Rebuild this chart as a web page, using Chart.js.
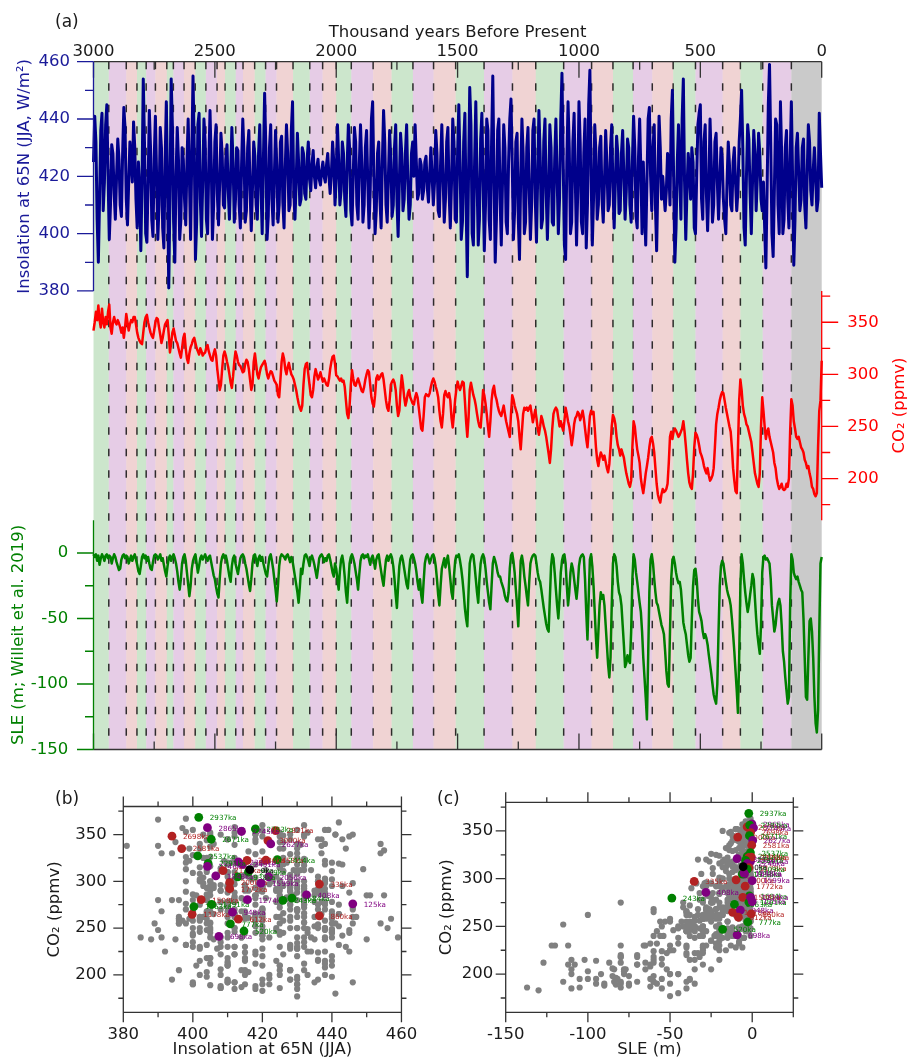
<!DOCTYPE html>
<html>
<head>
<meta charset="utf-8">
<title>Insolation, CO2 and sea level over the last 3 Myr</title>
<script src="https://cdn.jsdelivr.net/npm/chart.js"></script>
<style>
  body { margin: 0; background: #fff; width: 907px; height: 1061px; position: relative; overflow: hidden; }
  canvas { position: absolute; }
  #chartTimeSeries { left: 0; top: 0; }
  #chartInsolCO2 { left: 0; top: 780px; }
  #chartSLECO2 { left: 430px; top: 780px; }
</style>
</head>
<body>
<canvas id="chartTimeSeries" width="907" height="785"></canvas>
<canvas id="chartInsolCO2" width="430" height="281"></canvas>
<canvas id="chartSLECO2" width="477" height="281"></canvas>
<script>
// all three records run from 3000 ka to 0 ka, one value every 5 ka
var ageStart = 3000;
var ageStep = 5;

// insolation at 65N, JJA mean (W/m2)
var insolation = [
  425, 441, 432, 405, 390, 412, 436, 442, 408, 418, 438, 445, 420, 398, 410, 431, 428, 414, 405, 420, // 3000-2905
  433, 426, 410, 406, 428, 444, 437, 412, 403, 418, 432, 425, 418, 439, 430, 412, 402, 425, 416, 394, // 2900-2805
  418, 454, 432, 400, 397, 418, 443, 430, 405, 399, 426, 441, 420, 398, 410, 437, 430, 402, 395, 425, // 2800-2705
  446, 418, 381, 412, 454, 438, 404, 390, 420, 437, 426, 398, 405, 430, 426, 412, 403, 425, 440, 420, // 2700-2605
  398, 428, 455, 430, 391, 404, 438, 442, 412, 399, 418, 440, 432, 405, 400, 424, 443, 425, 398, 410, // 2600-2505
  432, 438, 414, 403, 418, 435, 428, 410, 409, 426, 431, 415, 405, 420, 437, 425, 404, 412, 430, 429, // 2500-2405
  410, 402, 424, 440, 428, 404, 408, 430, 436, 415, 401, 416, 432, 427, 410, 405, 428, 438, 416, 400, // 2400-2305
  426, 449, 430, 398, 406, 430, 438, 412, 403, 420, 436, 424, 404, 410, 432, 434, 411, 402, 423, 438, // 2300-2205
  428, 408, 410, 436, 446, 415, 405, 418, 435, 425, 410, 412, 430, 428, 414, 412, 426, 432, 419, 415, // 2200-2105
  424, 429, 420, 416, 423, 426, 419, 417, 422, 425, 420, 418, 424, 428, 420, 414, 421, 432, 425, 410, // 2100-2005
  420, 438, 426, 410, 415, 432, 428, 412, 406, 424, 438, 430, 408, 403, 420, 437, 432, 410, 405, 424, // 2000-1905
  438, 425, 404, 410, 430, 436, 418, 402, 415, 440, 446, 420, 400, 408, 428, 432, 412, 402, 425, 443, // 1900-1805
  432, 410, 404, 420, 436, 425, 406, 410, 430, 438, 412, 399, 418, 435, 428, 408, 412, 428, 438, 418, // 1800-1705
  405, 410, 428, 432, 420, 438, 425, 412, 414, 426, 424, 412, 415, 425, 427, 416, 411, 421, 430, 420, // 1700-1605
  410, 418, 436, 428, 408, 406, 425, 438, 420, 404, 412, 432, 437, 414, 402, 418, 440, 432, 405, 404, // 1600-1505
  428, 445, 425, 398, 404, 432, 442, 410, 385, 420, 451, 438, 400, 396, 425, 446, 420, 396, 405, 433, // 1500-1405
  442, 418, 394, 410, 440, 436, 405, 398, 432, 455, 420, 390, 405, 436, 440, 412, 396, 418, 438, 430, // 1400-1305
  404, 400, 425, 440, 447, 425, 398, 408, 432, 435, 405, 391, 420, 440, 428, 400, 404, 430, 437, 415, // 1300-1205
  398, 410, 436, 440, 412, 397, 420, 443, 428, 402, 405, 432, 440, 414, 398, 415, 438, 430, 404, 403, // 1200-1105
  426, 440, 420, 400, 412, 440, 456, 425, 396, 391, 425, 446, 430, 400, 404, 432, 442, 418, 396, 415, // 1100-1005
  446, 432, 404, 400, 428, 440, 395, 410, 445, 457, 420, 396, 412, 438, 428, 405, 410, 430, 434, 412, // 1000-905
  404, 418, 436, 425, 408, 410, 430, 438, 416, 402, 418, 434, 428, 407, 408, 428, 436, 420, 405, 415, // 900-805
  433, 430, 410, 404, 425, 441, 430, 406, 402, 426, 440, 422, 400, 425, 410, 396, 418, 440, 444, 420, // 800-705
  408, 430, 438, 410, 394, 418, 441, 430, 412, 420, 414, 408, 415, 428, 424, 410, 440, 450, 420, 390, // 700-605
  402, 425, 438, 420, 405, 440, 454, 418, 398, 415, 428, 422, 412, 430, 425, 402, 400, 420, 438, 442, // 600-505
  445, 412, 405, 432, 438, 414, 401, 416, 440, 425, 404, 410, 432, 435, 418, 405, 418, 430, 427, 412, // 500-405
  405, 400, 418, 432, 424, 410, 408, 425, 430, 418, 408, 415, 432, 440, 450, 430, 402, 396, 420, 438, // 400-305
  433, 414, 400, 418, 436, 428, 408, 420, 435, 428, 412, 408, 418, 402, 388, 415, 445, 459, 432, 400, // 300-205
  392, 415, 440, 438, 410, 400, 446, 428, 400, 405, 430, 436, 412, 402, 426, 446, 420, 389, 405, 430, // 200-105
  435, 422, 408, 412, 430, 433, 410, 402, 420, 438, 432, 415, 410, 422, 430, 420, 408, 412, 442, 428, // 100-5
  416 // 0
];

// atmospheric CO2 (ppmv)
var co2 = [
  342, 350, 360, 352, 366, 352, 345, 363, 350, 345, 355, 348, 360, 367, 345, 339, 350, 355, 350, 348,
  352, 349, 345, 340, 345, 335, 345, 358, 350, 342, 348, 352, 350, 355, 355, 348, 340, 335, 332, 330,
  329, 340, 350, 355, 357, 350, 345, 340, 337, 335, 342, 350, 354, 353, 345, 338, 330, 335, 342, 348,
  350, 352, 338, 321, 330, 340, 344, 338, 332, 330, 325, 320, 316, 325, 335, 339, 325, 315, 311, 320,
  326, 329, 333, 335, 330, 325, 322, 319, 325, 322, 318, 320, 321, 326, 328, 322, 318, 314, 313, 320,
  324, 318, 305, 295, 285, 290, 305, 318, 322, 318, 312, 307, 300, 292, 287, 298, 312, 322, 318, 312,
  309, 308, 305, 302, 303, 310, 314, 312, 305, 295, 285, 290, 312, 320, 310, 300, 296, 302, 307, 309,
  311, 313, 308, 300, 296, 300, 303, 302, 298, 294, 292, 290, 280, 278, 295, 312, 320, 315, 305, 300,
  307, 311, 305, 300, 298, 295, 290, 285, 278, 272, 268, 265, 270, 290, 305, 310, 311, 300, 290, 280,
  278, 285, 298, 305, 300, 295, 298, 302, 297, 293, 296, 293, 290, 289, 295, 305, 312, 317, 318, 310,
  299, 298, 296, 294, 296, 293, 294, 288, 275, 262, 258, 270, 290, 304, 296, 290, 289, 293, 296, 292,
  288, 284, 283, 288, 295, 300, 304, 302, 290, 278, 272, 269, 280, 296, 299, 295, 297, 300, 301, 295,
  285, 275, 268, 265, 275, 290, 293, 295, 292, 285, 270, 260, 265, 285, 299, 290, 278, 270, 275, 282,
  285, 278, 275, 272, 271, 278, 282, 278, 268, 258, 248, 246, 260, 278, 281, 280, 279, 282, 288, 293,
  296, 293, 288, 284, 278, 265, 255, 249, 262, 280, 284, 280, 278, 282, 275, 258, 249, 262, 276, 286,
  293, 288, 285, 289, 293, 292, 275, 255, 240, 258, 285, 292, 286, 280, 276, 270, 262, 255, 250, 249,
  265, 285, 280, 272, 262, 250, 240, 255, 275, 285, 289, 280, 276, 270, 265, 262, 260, 265, 270, 262,
  255, 250, 245, 240, 262, 280, 276, 270, 266, 262, 255, 240, 228, 245, 262, 268, 266, 268, 265, 268,
  270, 262, 254, 260, 266, 258, 248, 242, 250, 260, 256, 250, 246, 240, 232, 224, 215, 228, 248, 262,
  266, 268, 266, 258, 250, 255, 250, 246, 255, 268, 262, 255, 250, 242, 232, 240, 252, 258, 260, 264,
  262, 256, 260, 265, 258, 248, 238, 230, 245, 260, 265, 262, 264, 248, 230, 218, 212, 220, 225, 222,
  218, 222, 216, 210, 206, 214, 230, 250, 261, 258, 252, 240, 232, 228, 222, 228, 224, 220, 212, 205,
  200, 195, 192, 198, 230, 255, 250, 238, 228, 222, 215, 200, 192, 186, 195, 205, 212, 220, 230, 238,
  240, 234, 225, 210, 195, 185, 180, 177, 185, 190, 187, 188, 190, 195, 215, 240, 245, 238, 245, 248,
  246, 243, 240, 242, 245, 248, 255, 245, 232, 218, 205, 196, 192, 190, 205, 230, 244, 242, 238, 232,
  225, 222, 218, 212, 208, 205, 210, 203, 198, 200, 203, 210, 230, 252, 262, 268, 275, 280, 283, 282,
  275, 268, 262, 256, 250, 245, 230, 210, 198, 188, 186, 230, 275, 295, 285, 270, 262, 258, 252, 250,
  245, 240, 235, 225, 215, 205, 200, 195, 192, 205, 250, 278, 265, 250, 238, 245, 248, 240, 235, 230,
  225, 215, 210, 200, 194, 190, 192, 195, 190, 189, 190, 195, 192, 200, 245, 276, 270, 255, 248, 240,
  238, 240, 235, 230, 228, 225, 218, 215, 210, 212, 205, 200, 192, 190, 185, 183, 186, 230, 265, 275,
  313
];

// sea level equivalent ice volume (m), Willeit et al. 2019
var sle = [
  -1, -3, -1, -6, -2, -9, -4, -1, -3, -6, -2, -1, -4, -2, -3, -8, -4, -1, -3, -7,
  -10, -13, -12, -5, -2, -1, -4, -2, -3, -8, -5, -2, -6, -3, -1, -5, -9, -14, -16, -10,
  -3, -1, -4, -2, -6, -3, -8, -12, -13, -7, -2, -1, -2, -5, -3, -1, -6, -4, -9, -14,
  -18, -10, -4, -2, -6, -3, -1, -4, -8, -14, -22, -28, -20, -8, -3, -1, -6, -15, -24, -33,
  -25, -12, -6, -3, -1, -8, -15, -10, -4, -2, -5, -3, -1, -4, -6, -3, -2, -7, -12, -17,
  -20, -26, -31, -34, -20, -8, -3, -1, -4, -2, -6, -12, -18, -22, -10, -4, -2, -8, -12, -16,
  -10, -4, -2, -1, -3, -8, -12, -18, -24, -29, -20, -8, -2, -1, -5, -10, -4, -2, -6, -3,
  -8, -12, -16, -18, -10, -3, -1, -6, -12, -20, -28, -37, -25, -10, -3, -1, -2, -3, -5, -2,
  -1, -4, -7, -3, -6, -12, -18, -24, -30, -38, -26, -12, -16, -8, -2, -1, -3, -6, -10, -4,
  -2, -5, -9, -14, -19, -12, -4, -2, -1, -3, -7, -4, -6, -2, -1, -5, -10, -15, -18, -8,
  -12, -20, -28, -14, -5, -2, -8, -18, -30, -38, -22, -8, -3, -1, -4, -8, -14, -20, -28, -16,
  -6, -2, -1, -4, -2, -3, -1, -5, -9, -4, -2, -6, -12, -5, -2, -1, -8, -14, -20, -25,
  -14, -5, -2, -6, -3, -1, -4, -10, -20, -32, -42, -25, -10, -4, -2, -6, -12, -18, -24, -27,
  -15, -5, -2, -1, -4, -8, -14, -22, -28, -20, -32, -38, -22, -8, -3, -1, -4, -8, -5, -2,
  -1, -4, -10, -20, -32, -40, -25, -12, -8, -4, -11, -6, -2, -10, -20, -30, -35, -18, -6, -2,
  -3, -1, -6, -12, -20, -30, -42, -50, -56, -30, -8, -3, -1, -2, -10, -20, -30, -38, -20, -8,
  -3, -1, -4, -12, -22, -30, -38, -43, -25, -8, -3, -6, -10, -15, -18, -18, -22, -25, -28, -33,
  -36, -37, -30, -12, -2, 0, -6, -15, -28, -40, -56, -30, -6, -2, -8, -18, -25, -33, -40, -22,
  -8, -4, -2, -1, -2, -8, -15, -20, -22, -28, -35, -42, -48, -54, -58, -60, -35, -10, -1, -4,
  -15, -28, -40, -50, -35, -15, -6, -2, -1, -8, -25, -40, -30, -15, -8, -12, -20, -28, -35, -25,
  -10, -4, -2, -1, -3, -20, -45, -66, -35, -5, -1, -10, -25, -45, -65, -80, -60, -40, -30, -35,
  -32, -40, -55, -70, -85, -95, -80, -40, -8, -1, -3, -10, -22, -30, -33, -40, -55, -70, -87, -84,
  -78, -82, -84, -60, -20, -1, -5, -15, -22, -30, -38, -45, -60, -80, -95, -110, -127, -80, -30, -5,
  -1, -8, -20, -30, -38, -40, -45, -50, -55, -58, -62, -75, -90, -100, -102, -60, -20, -5, -3, -8,
  -15, -20, -23, -22, -28, -40, -53, -58, -62, -70, -78, -83, -80, -50, -25, -13, -12, -20, -35, -45,
  -48, -52, -60, -65, -62, -65, -70, -78, -85, -92, -100, -108, -112, -115, -100, -60, -25, -10, -6, -8,
  -15, -22, -28, -32, -35, -40, -50, -62, -75, -90, -105, -122, -80, -25, -1, -8, -20, -30, -38, -45,
  -40, -32, -25, -16, -20, -35, -50, -62, -70, -77, -55, -15, -3, -2, -5, -4, -6, -8, -20, -40,
  -50, -60, -55, -45, -38, -35, -40, -55, -75, -83, -95, -105, -115, -110, -40, -1, -5, -15, -18, -20,
  -18, -22, -25, -28, -30, -50, -80, -110, -112, -80, -52, -50, -60, -80, -110, -130, -137, -120, -60, -8,
  -3
];

// highlighted ages: band edges in (a), labelled dots in (b) and (c)
var stageAges = [3000, 2937, 2865, 2821, 2783, 2745, 2698, 2671, 2627, 2581, 2537, 2491, 2458, 2414,
  2384, 2336, 2291, 2246, 2178, 2109, 2056, 2000, 1938, 1848, 1772, 1684, 1599, 1508, 1391, 1274,
  1178, 1063, 948, 860, 777, 698, 612, 520, 408, 335, 243, 125, 0];
var stageKinds = ['brown',
  'green', 'purple', 'brown', 'green', 'purple', 'brown', 'green', 'purple', 'brown',
  'green', 'purple', 'brown', 'green', 'purple', 'brown', 'green', 'purple', 'brown',
  'green', 'purple', 'brown', 'green', 'purple', 'brown', 'green', 'purple', 'brown',
  'green', 'purple', 'brown', 'green', 'purple', 'brown', 'green', 'purple', 'brown',
  'green', 'purple', 'brown', 'green', 'purple', 'black'];
var stageInsol = [421.6, 401.7, 404.2, 423.8, 418.0, 414.0, 394.0, 405.3, 422.4, 396.8, 401.4, 414.3,
  421.0, 424.3, 413.1, 415.6, 404.4, 404.2, 408.7, 416.0, 421.8, 410.6, 412.9, 406.6, 410.6, 428.5,
  419.6, 402.4, 405.4, 415.7, 399.8, 400.3, 411.4, 436.4, 410.8, 407.5, 413.1, 414.7, 432.7, 436.4,
  425.9, 446.0, 416.4];
var stageCO2 = [343.6, 368.4, 357.4, 354.3, 356.0, 353.3, 348.3, 345.0, 340.0, 335.0, 327.2, 318.2,
  322.6, 323.2, 320.9, 322.3, 319.2, 315.9, 311.5, 310.0, 304.8, 298.8, 304.8, 305.8, 292.1, 282.0,
  298.0, 280.4, 275.4, 280.4, 264.7, 273.0, 267.0, 263.0, 254.6, 241.2, 259.6, 246.9, 285.6, 297.1,
  279.7, 276.0, 312.5];
var stageSLE = [-8.8, -2.1, -0.2, -3.1, -1.5, 0.8, -1.0, -1.7, 0.3, -0.3, -1.1, -1.0, -0.5, -3.1,
  -9.2, -2.0, -4.0, -3.0, -2.0, -3.0, -4.7, -9.8, -6.0, -5.0, -4.3, -1.7, 0.0, -5.7, -2.0, -1.0,
  -11.9, -10.8, -7.2, -0.6, -2.7, -9.2, -8.4, -18.0, -28.2, -35.3, -48.9, 0.0, -5.5];

// tick values
var ageTicks = [3000, 2500, 2000, 1500, 1000, 500, 0];
var ageMinorTicks = [2750, 2250, 1750, 1250, 750, 250];
var insolTicks = [380, 400, 420, 440, 460];
var insolMinorTicks = [390, 410, 430, 450];
var co2Ticks = [200, 250, 300, 350];
var co2MinorTicks = [175, 225, 275, 325, 375];
var sleTicks = [0, -50, -100, -150];
var sleMinorTicks = [-25, -75, -125];
var sleScatterTicks = [-150, -100, -50, 0];
var sleScatterMinorTicks = [-125, -75, -25, 25];

var insolColor = '#1a1a99';
var co2Color = '#ff0000';
var sleColor = '#008000';
var axisColor = '#333333';
var kindColor = { green: '#008000', purple: '#800080', brown: '#b22222', black: '#000000' };
var kindBand = { green: 'rgba(0,128,0,0.2)', purple: 'rgba(128,0,128,0.2)', brown: 'rgba(178,34,34,0.2)', black: 'rgba(128,128,128,0.42)' };

Chart.defaults.font.family = '"DejaVu Sans", sans-serif';
Chart.defaults.font.size = 16.5;
Chart.defaults.color = '#1a1a1a';

function series(values) {
    return values.map(function (v, i) { return { x: ageStart - i * ageStep, y: v }; });
}
function fixedTicks(values) {
    return function (scale) { scale.ticks = values.map(function (v) { return { value: v }; }); };
}
function plainLabel(value) { return String(value); }
function fixWidth(w) { return function (scale) { scale.width = w; }; }
function fixHeight(h) { return function (scale) { scale.height = h; }; }

// short tick marks along an axis line, len < 0 goes left / up
function tickMarks(ctx, scale, along, values, len) {
    values.forEach(function (v) {
        var p = scale.getPixelForValue(v);
        if (scale.isHorizontal()) { ctx.moveTo(p, along); ctx.lineTo(p, along + len); }
        else { ctx.moveTo(along, p); ctx.lineTo(along + len, p); }
    });
}

var timeSeriesDecor = {
    id: 'timeSeriesDecor',
    beforeDatasetsDraw: function (chart) {
        var ctx = chart.ctx, area = chart.chartArea, x = chart.scales.x;
        ctx.save();
        for (var i = 0; i < stageAges.length - 1; i++) {
            var x0 = x.getPixelForValue(stageAges[i]);
            var x1 = x.getPixelForValue(stageAges[i + 1]);
            ctx.fillStyle = kindBand[stageKinds[i + 1]];
            ctx.fillRect(x0, area.top, x1 - x0, area.bottom - area.top);
        }
        ctx.strokeStyle = 'rgba(0,0,0,0.8)';
        ctx.lineWidth = 1.5;
        ctx.setLineDash([7.5, 14]);
        ctx.beginPath();
        for (var j = 1; j < stageAges.length - 1; j++) {
            var px = x.getPixelForValue(stageAges[j]);
            ctx.moveTo(px, area.top);
            ctx.lineTo(px, area.bottom);
        }
        ctx.stroke();
        ctx.restore();
    },
    afterDraw: function (chart) {
        var ctx = chart.ctx, area = chart.chartArea, s = chart.scales;
        ctx.save();
        ctx.lineWidth = 1.3;
        ctx.strokeStyle = axisColor;
        ctx.beginPath();
        ctx.moveTo(area.left, area.top); ctx.lineTo(area.right, area.top);
        ctx.moveTo(area.left, area.bottom); ctx.lineTo(area.right, area.bottom);
        tickMarks(ctx, s.x, area.top, ageTicks, 16);
        tickMarks(ctx, s.x, area.top, ageMinorTicks, 8);
        tickMarks(ctx, s.x, area.bottom, ageTicks, -16);
        tickMarks(ctx, s.x, area.bottom, ageMinorTicks, -8);
        ctx.stroke();

        // each y axis only covers its own third of the panel
        [[s.yInsol, area.left, -1, insolTicks, insolMinorTicks, insolColor],
         [s.yCO2, area.right, 1, co2Ticks, co2MinorTicks, co2Color],
         [s.ySLE, area.left, -1, sleTicks, sleMinorTicks, sleColor]].forEach(function (ax) {
            ctx.strokeStyle = ax[5];
            ctx.beginPath();
            ctx.moveTo(ax[1], ax[0].top); ctx.lineTo(ax[1], ax[0].bottom);
            tickMarks(ctx, ax[0], ax[1], ax[3], 16.5 * ax[2]);
            tickMarks(ctx, ax[0], ax[1], ax[4], 8.5 * ax[2]);
            ctx.stroke();
        });

        ctx.fillStyle = '#1a1a1a';
        ctx.font = '17px "DejaVu Sans"';
        ctx.textBaseline = 'middle';
        ctx.fillText('(a)', 55, 23);

        // right-hand title reads upwards like the left ones
        ctx.translate(900, (s.yCO2.top + s.yCO2.bottom) / 2);
        ctx.rotate(-Math.PI / 2);
        ctx.fillStyle = co2Color;
        ctx.font = '16.5px "DejaVu Sans"';
        ctx.textAlign = 'center';
        ctx.fillText('CO₂ (ppmv)', 0, 0);
        ctx.restore();
    }
};

var chartTimeSeries = new Chart(document.getElementById('chartTimeSeries'), {
    type: 'line',
    data: {
        datasets: [{
            label: 'Insolation',
            data: series(insolation),
            yAxisID: 'yInsol',
            borderColor: '#00008b',
            borderWidth: 3
        }, {
            label: 'CO2',
            data: series(co2),
            yAxisID: 'yCO2',
            borderColor: '#ff0000',
            borderWidth: 2.5
        }, {
            label: 'SLE',
            data: series(sle),
            yAxisID: 'ySLE',
            borderColor: '#008000',
            borderWidth: 2.5
        }]
    },
    options: {
        responsive: false,
        animation: false,
        events: [],
        elements: {
            point: { radius: 0 },
            line: { tension: 0, borderJoinStyle: 'round' }
        },
        datasets: { line: { clip: 6 } },
        layout: { padding: { bottom: 18 }, autoPadding: false },
        plugins: { legend: { display: false }, tooltip: { enabled: false } },
        scales: {
            x: {
                type: 'linear', position: 'top', min: 0, max: 3000, reverse: true,
                afterBuildTicks: fixedTicks(ageTicks),
                afterFit: fixHeight(61.7),
                grid: { display: false, drawTicks: false },
                border: { display: false },
                ticks: { padding: 0, maxRotation: 0, autoSkip: false, callback: plainLabel },
                title: { display: true, text: 'Thousand years Before Present', padding: { top: 23.1 } }
            },
            ySLE: {
                type: 'linear', position: 'left', stack: 'left', stackWeight: 1, min: -150, max: 25,
                afterBuildTicks: fixedTicks(sleTicks),
                afterFit: fixWidth(93.5),
                grid: { display: false, drawTicks: false },
                border: { display: false },
                ticks: { color: sleColor, padding: 25.2, autoSkip: false, callback: plainLabel },
                title: { display: true, text: 'SLE (m; Willeit et al. 2019)', color: sleColor, padding: { top: 8.4 } }
            },
            yGapLeft: {
                type: 'linear', position: 'left', stack: 'left', stackWeight: 1, display: false,
                afterFit: fixWidth(93.5)
            },
            yInsol: {
                type: 'linear', position: 'left', stack: 'left', stackWeight: 1, min: 380, max: 460,
                afterBuildTicks: fixedTicks(insolTicks),
                afterFit: fixWidth(93.5),
                grid: { display: false, drawTicks: false },
                border: { display: false },
                ticks: { color: insolColor, padding: 23.5, autoSkip: false, callback: plainLabel },
                title: { display: true, text: 'Insolation at 65N (JJA, W/m²)', color: insolColor, padding: { top: 15.1 } }
            },
            yTopRight: {
                type: 'linear', position: 'right', stack: 'right', stackWeight: 1, display: false,
                afterFit: fixWidth(85.3)
            },
            yCO2: {
                type: 'linear', position: 'right', stack: 'right', stackWeight: 1, min: 160, max: 380,
                afterBuildTicks: fixedTicks(co2Ticks),
                afterFit: fixWidth(85.3),
                grid: { display: false, drawTicks: false },
                border: { display: false },
                ticks: { color: co2Color, padding: 25.6, autoSkip: false, callback: plainLabel }
            },
            yLowRight: {
                type: 'linear', position: 'right', stack: 'right', stackWeight: 1, display: false,
                afterFit: fixWidth(85.3)
            }
        }
    },
    plugins: [timeSeriesDecor]
});

// one dataset per highlighted age so each label sits right above its own dot
function stageDatasets(xValues) {
    return stageAges.map(function (age, i) {
        return {
            label: age + 'ka',
            stageLabel: age + 'ka',
            data: [{ x: xValues[i], y: stageCO2[i] }],
            pointBackgroundColor: kindColor[stageKinds[i]],
            pointBorderWidth: 0,
            pointRadius: 4.4,
            order: stageAges.length - i
        };
    });
}

function scatterDecor(letter, letterX, xTicks, xMinorTicks) {
    return {
        id: 'scatterDecor',
        afterDatasetDraw: function (chart, args) {
            var ds = chart.data.datasets[args.index];
            if (!ds.stageLabel) return;
            var pt = args.meta.data[0];
            var ctx = chart.ctx;
            ctx.save();
            ctx.font = '7.2px "DejaVu Sans"';
            ctx.fillStyle = ds.pointBackgroundColor;
            ctx.textBaseline = 'middle';
            ctx.fillText(ds.stageLabel, pt.x + 11, pt.y + 1);
            ctx.restore();
        },
        afterDraw: function (chart) {
            var ctx = chart.ctx, area = chart.chartArea, s = chart.scales;
            ctx.save();
            ctx.strokeStyle = axisColor;
            ctx.lineWidth = 1.3;
            ctx.beginPath();
            ctx.rect(area.left, area.top, area.right - area.left, area.bottom - area.top);
            tickMarks(ctx, s.x, area.bottom, xTicks, 10);
            tickMarks(ctx, s.x, area.bottom, xMinorTicks, 5);
            tickMarks(ctx, s.x, area.top, xTicks, -10);
            tickMarks(ctx, s.x, area.top, xMinorTicks, -5);
            tickMarks(ctx, s.y, area.left, co2Ticks, -10);
            tickMarks(ctx, s.y, area.left, co2MinorTicks, -5);
            tickMarks(ctx, s.y, area.right, co2Ticks, 10);
            tickMarks(ctx, s.y, area.right, co2MinorTicks, 5);
            ctx.stroke();
            ctx.fillStyle = '#1a1a1a';
            ctx.font = '17px "DejaVu Sans"';
            ctx.textBaseline = 'middle';
            ctx.fillText(letter, letterX, 20);
            ctx.restore();
        }
    };
}

function scatterYAxis(width, labelPad, titlePad) {
    return {
        type: 'linear', position: 'left', min: 160, max: 380,
        afterBuildTicks: fixedTicks(co2Ticks),
        afterFit: fixWidth(width),
        grid: { display: false, drawTicks: false },
        border: { display: false },
        ticks: { padding: labelPad, autoSkip: false, callback: plainLabel },
        title: { display: true, text: 'CO₂ (ppmv)', padding: { top: titlePad } }
    };
}

var chartInsolCO2 = new Chart(document.getElementById('chartInsolCO2'), {
    type: 'scatter',
    data: {
        datasets: [{
            label: 'all ages',
            data: insolation.map(function (v, i) { return { x: v, y: co2[i] }; }),
            pointBackgroundColor: '#808080',
            pointBorderWidth: 0,
            pointRadius: 3.1,
            order: 100
        }].concat(stageDatasets(stageInsol))
    },
    options: {
        responsive: false,
        animation: false,
        events: [],
        layout: { padding: { top: 14, right: 20.7 }, autoPadding: false },
        plugins: { legend: { display: false }, tooltip: { enabled: false } },
        scales: {
            x: {
                type: 'linear', position: 'bottom', min: 380, max: 460,
                afterBuildTicks: fixedTicks(insolTicks),
                afterFit: fixHeight(48.7),
                grid: { display: false, drawTicks: false },
                border: { display: false },
                ticks: { padding: 12.8, maxRotation: 0, autoSkip: false, callback: plainLabel },
                title: { display: true, text: 'Insolation at 65N (JJA)', padding: { top: 0, bottom: 1.6 } }
            },
            y: scatterYAxis(123.3, 16.6, 45.1)
        }
    },
    plugins: [scatterDecor('(b)', 55, insolTicks, insolMinorTicks)]
});

var chartSLECO2 = new Chart(document.getElementById('chartSLECO2'), {
    type: 'scatter',
    data: {
        datasets: [{
            label: 'all ages',
            data: sle.map(function (v, i) { return { x: v, y: co2[i] }; }),
            pointBackgroundColor: '#808080',
            pointBorderWidth: 0,
            pointRadius: 3.1,
            order: 100
        }].concat(stageDatasets(stageSLE))
    },
    options: {
        responsive: false,
        animation: false,
        events: [],
        layout: { padding: { top: 14, right: 113.7 }, autoPadding: false },
        plugins: { legend: { display: false }, tooltip: { enabled: false } },
        scales: {
            x: {
                type: 'linear', position: 'bottom', min: -150, max: 25,
                afterBuildTicks: fixedTicks(sleScatterTicks),
                afterFit: fixHeight(48.7),
                grid: { display: false, drawTicks: false },
                border: { display: false },
                ticks: { padding: 12.8, maxRotation: 0, autoSkip: false, callback: plainLabel },
                title: { display: true, text: 'SLE (m)', padding: { top: 0, bottom: 1.6 } }
            },
            y: scatterYAxis(75.7, 12.4, 6.8)
        }
    },
    plugins: [scatterDecor('(c)', 7, sleScatterTicks, sleScatterMinorTicks)]
});
</script>
</body>
</html>
